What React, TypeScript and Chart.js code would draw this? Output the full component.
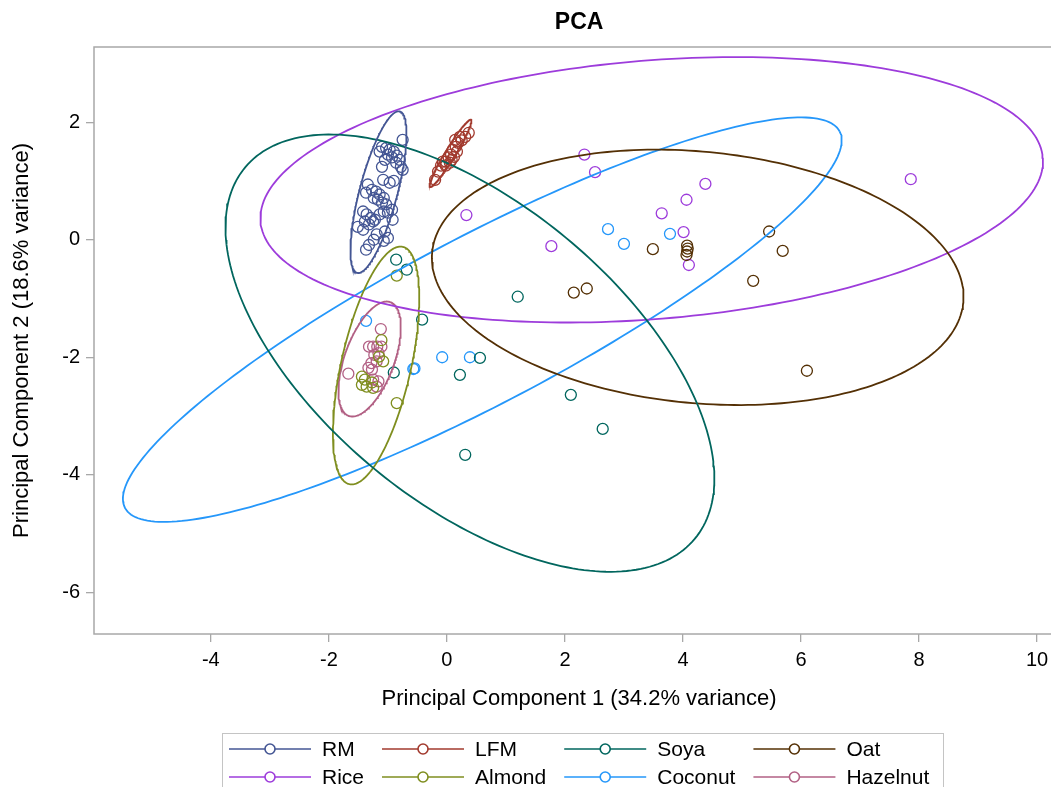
import React, { useEffect, useRef } from "react";
import { Chart, registerables } from "chart.js";

Chart.register(...registerables);

// ---- Data ----
const seriesNames = ["RM", "LFM", "Soya", "Oat", "Rice", "Almond", "Coconut", "Hazelnut"];
const seriesColors = ["#445694", "#A23A2E", "#01665E", "#543005", "#9D3CDB", "#7F8E1F", "#2597FA", "#B26084"];

const rmPoints: [number, number][] = [
  [-0.75, 1.7], [-1.1, 1.58], [-1.03, 1.56], [-0.97, 1.53], [-0.9, 1.5], [-0.85, 1.43], [-0.8, 1.36],
  [-1.0, 1.45], [-0.93, 1.4], [-0.86, 1.31], [-0.78, 1.24], [-0.75, 1.19], [-1.05, 1.36], [-1.14, 1.5],
  [-1.1, 1.24], [-1.08, 1.02], [-0.97, 0.97], [-0.9, 1.0],
  [-1.34, 0.94], [-1.27, 0.85], [-1.2, 0.82], [-1.14, 0.77], [-1.07, 0.71], [-1.24, 0.71], [-1.17, 0.68],
  [-1.1, 0.63], [-1.03, 0.6], [-1.37, 0.8], [-1.0, 0.46], [-0.93, 0.51],
  [-1.42, 0.48], [-1.36, 0.43], [-1.29, 0.37], [-1.22, 0.34], [-1.39, 0.31], [-1.32, 0.26], [-1.25, 0.31],
  [-1.14, 0.43], [-1.07, 0.48], [-1.51, 0.22], [-1.42, 0.17], [-0.92, 0.34],
  [-1.05, 0.14], [-1.0, 0.03], [-1.07, -0.02], [-1.24, 0.0], [-1.32, -0.09], [-1.37, -0.17], [-1.19, 0.09],
];
const lfmPoints: [number, number][] = [
  [0.37, 1.82], [0.31, 1.75], [0.22, 1.75], [0.25, 1.69], [0.19, 1.65], [0.14, 1.7], [0.15, 1.58],
  [0.1, 1.53], [0.17, 1.5], [0.07, 1.45], [0.12, 1.41], [0.03, 1.4], [-0.02, 1.33], [0.05, 1.31],
  [0.08, 1.36], [-0.07, 1.33], [-0.1, 1.26], [-0.02, 1.26], [-0.15, 1.16], [-0.2, 1.02],
];
const soyaPoints: [number, number][] = [
  [-0.86, -0.34], [-0.68, -0.51], [-0.42, -1.36], [1.2, -0.97], [-0.9, -2.26], [0.22, -2.3],
  [0.56, -2.01], [2.1, -2.64], [2.64, -3.22], [0.31, -3.66],
];
const oatPoints: [number, number][] = [
  [3.49, -0.16], [4.07, -0.1], [4.08, -0.15], [4.07, -0.2], [4.06, -0.26], [2.15, -0.9], [2.37, -0.83],
  [5.46, 0.14], [5.69, -0.19], [5.19, -0.7], [6.1, -2.23],
];
const ricePoints: [number, number][] = [
  [2.33, 1.45], [2.51, 1.15], [0.33, 0.42], [1.77, -0.11], [3.64, 0.45], [4.06, 0.68], [4.38, 0.95],
  [4.01, 0.13], [4.1, -0.43], [7.86, 1.03],
];
const almondPoints: [number, number][] = [
  [-0.85, -0.61], [-1.11, -1.71], [-1.08, -2.07], [-1.15, -1.99], [-1.44, -2.33], [-1.39, -2.38],
  [-1.44, -2.47], [-1.36, -2.5], [-1.27, -2.43], [-1.25, -2.52], [-0.85, -2.78],
];
const coconutPoints: [number, number][] = [
  [2.73, 0.18], [3.0, -0.07], [3.78, 0.1], [-0.08, -2.0], [0.39, -2.0], [-0.55, -2.19], [-0.57, -2.2],
  [-1.37, -1.38],
];
const hazelnutPoints: [number, number][] = [
  [-1.12, -1.52], [-1.32, -1.82], [-1.25, -1.82], [-1.18, -1.82], [-1.11, -1.82], [-1.23, -1.96],
  [-1.16, -1.93], [-1.28, -2.1], [-1.19, -2.07], [-1.33, -2.18], [-1.27, -2.21], [-1.67, -2.28],
  [-1.25, -2.38], [-1.16, -2.41], [-1.19, -2.5],
];
const seriesPoints = [rmPoints, lfmPoints, soyaPoints, oatPoints, ricePoints, almondPoints, coconutPoints, hazelnutPoints];

// Confidence ellipses: center, semi-axes (major, minor), rotation in degrees
const ellipseCenters: [number, number][] = [
  [-1.16, 0.81], [0.06, 1.47], [0.39, -1.93], [4.25, -0.64], [3.47, 0.85], [-1.2, -2.14], [0.6, -1.36], [-1.31, -2.03],
];
const ellipseAxes: [number, number][] = [
  [1.42, 0.32], [0.67, 0.085], [4.95, 2.55], [4.52, 2.14], [6.65, 2.2], [2.07, 0.59], [6.85, 1.42], [1.03, 0.42],
];
const ellipseAngles = [75.3, 58.7, -39.7, -5.46, 4.69, 77.4, 27.9, 70];

const xTickValues = [-4, -2, 0, 2, 4, 6, 8, 10];
const yTickValues = [-6, -4, -2, 0, 2];
const xRange = [-5.98, 10.46];
const yRange = [-6.71, 3.28];

const titleText = "PCA";
const xTitle = "Principal Component 1 (34.2% variance)";
const yTitle = "Principal Component 2 (18.6% variance)";

const FONT = '"Liberation Sans", Arial, sans-serif';

function ellipsePath(i: number) {
  const [cx, cy] = ellipseCenters[i];
  const [a, b] = ellipseAxes[i];
  const th = (ellipseAngles[i] * Math.PI) / 180;
  const pts: { x: number; y: number }[] = [];
  const N = 240;
  for (let k = 0; k <= N; k++) {
    const t = (k / N) * Math.PI * 2;
    pts.push({
      x: cx + a * Math.cos(t) * Math.cos(th) - b * Math.sin(t) * Math.sin(th),
      y: cy + a * Math.cos(t) * Math.sin(th) + b * Math.sin(t) * Math.cos(th),
    });
  }
  return pts;
}

const framePlugin = {
  id: "frame",
  beforeDatasetsDraw(chart: any) {
    const { ctx, chartArea } = chart;
    ctx.save();
    ctx.strokeStyle = "#a8a8a8";
    ctx.lineWidth = 1.5;
    ctx.strokeRect(chartArea.left, chartArea.top, chartArea.right - chartArea.left, chartArea.bottom - chartArea.top);
    ctx.restore();
  },
};

const legendPlugin = {
  id: "gridLegend",
  afterDraw(chart: any) {
    const ctx = chart.ctx as CanvasRenderingContext2D;
    ctx.save();
    ctx.font = `21px ${FONT}`;
    const boxLeft = 222, boxTop = 733, boxRight = 943;
    ctx.strokeStyle = "#c4c4c4";
    ctx.lineWidth = 1;
    ctx.strokeRect(boxLeft + 0.5, boxTop + 0.5, boxRight - boxLeft, 100);
    const lineLen = 82, textGap = 11, colGap = 18;
    const rowsY = [749, 777];
    let x = 229;
    for (let c = 0; c < 4; c++) {
      const idx = [c, c + 4];
      let maxW = 0;
      idx.forEach((i, r) => {
        const y = rowsY[r];
        ctx.strokeStyle = seriesColors[i];
        ctx.lineWidth = 1.6;
        ctx.beginPath();
        ctx.moveTo(x, y);
        ctx.lineTo(x + lineLen, y);
        ctx.stroke();
        ctx.beginPath();
        ctx.fillStyle = "#fff";
        ctx.arc(x + lineLen / 2, y, 5, 0, Math.PI * 2);
        ctx.fill();
        ctx.stroke();
        ctx.fillStyle = "#000";
        ctx.textBaseline = "middle";
        ctx.textAlign = "left";
        ctx.fillText(seriesNames[i], x + lineLen + textGap, y + 1);
        maxW = Math.max(maxW, ctx.measureText(seriesNames[i]).width);
      });
      x += lineLen + textGap + maxW + colGap;
    }
    ctx.restore();
  },
};

export default function App() {
  const ref = useRef<HTMLCanvasElement>(null);
  useEffect(() => {
    if (!ref.current) return;
    const datasets: any[] = [];
    seriesNames.forEach((name, i) => {
      datasets.push({
        label: name + " ellipse",
        data: ellipsePath(i),
        showLine: true,
        pointRadius: 0,
        borderColor: seriesColors[i],
        borderWidth: 1.8,
        fill: false,
        tension: 0,
      });
    });
    seriesNames.forEach((name, i) => {
      datasets.push({
        label: name,
        data: seriesPoints[i].map(([x, y]) => ({ x, y })),
        showLine: false,
        pointStyle: "circle",
        pointRadius: 5.5,
        borderWidth: 1.3,
        borderColor: seriesColors[i],
        backgroundColor: "rgba(0,0,0,0)",
      });
    });
    const chart = new Chart(ref.current, {
      type: "scatter",
      data: { datasets },
      options: {
        animation: false,
        responsive: false,
        devicePixelRatio: 1,
        events: [],
        layout: { padding: 0 },
        plugins: {
          legend: { display: false },
          tooltip: { enabled: false },
          title: {
            display: true,
            text: titleText,
            fullSize: false,
            color: "#000",
            font: { family: FONT, size: 23, weight: "bold" },
            padding: { top: 9, bottom: 10.4 },
          },
        },
        scales: {
          x: {
            type: "linear",
            min: xRange[0],
            max: xRange[1],
            afterBuildTicks: (s: any) => {
              s.ticks = xTickValues.map((v) => ({ value: v }));
            },
            afterFit: (s: any) => {
              s.height = 153;
            },
            grid: { drawOnChartArea: false, drawTicks: true, tickLength: 8, color: "#a8a8a8", lineWidth: 1.3 },
            border: { display: false },
            ticks: { color: "#000", font: { family: FONT, size: 20 }, padding: 6, maxRotation: 0 },
            title: {
              display: true,
              text: xTitle,
              color: "#000",
              font: { family: FONT, size: 22 },
              padding: { top: 0, bottom: 75 },
            },
          },
          y: {
            type: "linear",
            min: yRange[0],
            max: yRange[1],
            afterBuildTicks: (s: any) => {
              s.ticks = yTickValues.map((v) => ({ value: v }));
            },
            afterFit: (s: any) => {
              s.width = 94;
            },
            grid: { drawOnChartArea: false, drawTicks: true, tickLength: 8, color: "#a8a8a8", lineWidth: 1.3 },
            border: { display: false },
            ticks: { color: "#000", font: { family: FONT, size: 20 }, padding: 6 },
            title: {
              display: true,
              text: yTitle,
              color: "#000",
              font: { family: FONT, size: 22 },
              padding: { top: 9, bottom: 0 },
            },
          },
        },
      },
      plugins: [framePlugin, legendPlugin],
    } as any);
    return () => chart.destroy();
  }, []);
  return (
    <div style={{ position: "fixed", left: 0, top: 0, width: 1051, height: 787, overflow: "hidden", background: "#fff" }}>
      <canvas ref={ref} width={1071} height={787} style={{ display: "block", width: 1071, height: 787 }} />
    </div>
  );
}
